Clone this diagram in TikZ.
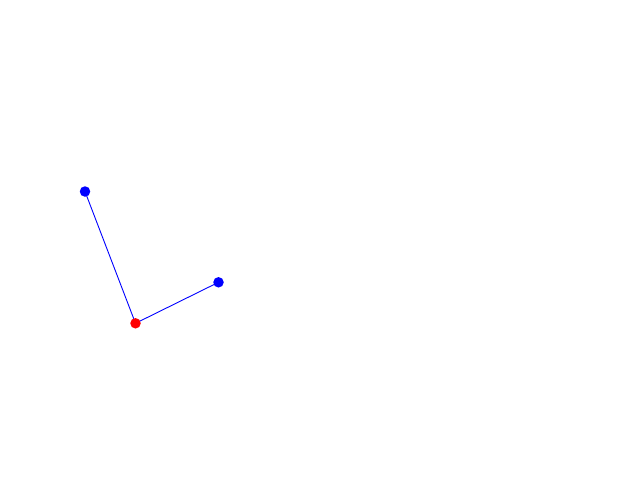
\documentclass[tikz,border=0pt]{standalone}
\usetikzlibrary{backgrounds}
\begin{document}
\begin{tikzpicture}[x=1pt,y=-1pt,
  dotb/.style={circle,fill=blue,inner sep=0pt,minimum size=10.5pt},
  dotr/.style={circle,fill=red,inner sep=0pt,minimum size=10.5pt},
  link/.style={blue,line width=0.9pt}]
\useasboundingbox (0,0) rectangle (640,480);
\node[dotb] (a) at (85,191.5) {};
\node[dotr] (b) at (135.5,323.3) {};
\node[dotb] (c) at (218.5,282.3) {};
\begin{scope}[on background layer]
\fill[white] (0,0) rectangle (640,480);
\draw[link] (a.center) -- (b.center) -- (c.center);
\end{scope}
\end{tikzpicture}
\end{document}
